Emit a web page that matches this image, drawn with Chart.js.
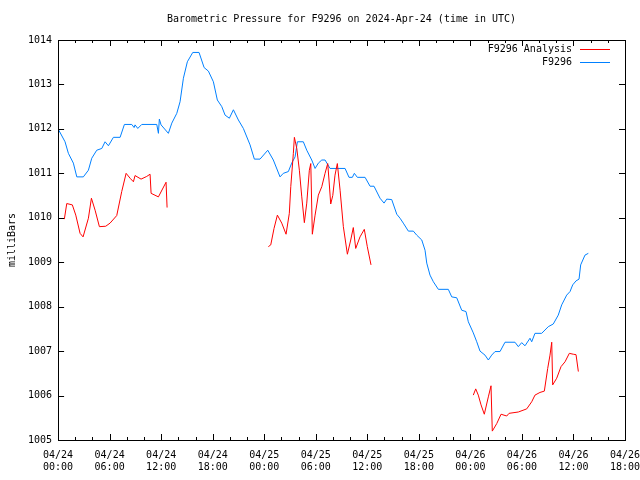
<!DOCTYPE html>
<html>
<head>
<meta charset="utf-8">
<title>Barometric Pressure for F9296</title>
<script src="https://cdn.jsdelivr.net/npm/chart.js@4.4.1/dist/chart.umd.min.js"></script>
<style>
body { margin: 0; background: #fff; }
#wrap { width: 640px; height: 480px; }
</style>
</head>
<body>
<div id="wrap"><canvas id="pressureChart" width="640" height="480"></canvas></div>
<script>
// hours since 2024-04-24 00:00 UTC
const xTickDays = ["04/24", "04/24", "04/24", "04/24", "04/25", "04/25", "04/25", "04/25", "04/26", "04/26", "04/26", "04/26"];
const xTickTimes = ["00:00", "06:00", "12:00", "18:00", "00:00", "06:00", "12:00", "18:00", "00:00", "06:00", "12:00", "18:00"];
const yTicks = [1005, 1006, 1007, 1008, 1009, 1010, 1011, 1012, 1013, 1014];

// analysis series has gaps (null)
const analysisHours = [
    0.73, 1.01, 1.66, 2.06, 2.56, 2.91, 3.53, 3.88, 4.31, 4.81, 5.55, 6.05, 6.83, 7.41, 7.92, 8.38, 8.77, 8.96,
    9.66, 10.32, 10.71, 10.83, 11.68, 12.57, 12.69,
    18,
    24.48, 24.76, 25.14, 25.53, 26.04, 26.54, 26.92, 27.09, 27.39, 27.51, 27.79, 28.09, 28.37, 28.67, 28.95,
    29.25, 29.42, 29.6, 29.92, 30.3, 30.7, 31.08, 31.39, 31.54, 31.74, 31.98, 32.24, 32.51, 32.83, 33.21,
    33.68, 34.07, 34.37, 34.65, 35.15, 35.65, 36.0, 36.43,
    42,
    48.34, 48.62, 48.92, 49.24, 49.62, 50.09, 50.4, 50.55, 51.07, 51.57, 52.23, 52.5, 53.58, 54.56, 55.14,
    55.52, 56.1, 56.61, 57.0, 57.27, 57.47, 57.58, 58.05, 58.55, 59.02, 59.52, 59.98, 60.3, 60.57
];
const analysisValues = [
    1009.97, 1010.32, 1010.29, 1010.06, 1009.65, 1009.57, 1009.99, 1010.44, 1010.17, 1009.80, 1009.81, 1009.88,
    1010.05, 1010.59, 1011.0, 1010.89, 1010.81, 1010.95, 1010.87, 1010.93, 1010.98, 1010.55, 1010.47, 1010.80, 1010.23,
    null,
    1009.35, 1009.39, 1009.76, 1010.06, 1009.88, 1009.63, 1010.10, 1010.70, 1011.45, 1011.81, 1011.56, 1011.07,
    1010.47, 1009.89, 1010.33, 1011.07, 1011.22, 1009.63, 1010.06, 1010.51, 1010.70, 1011.0, 1011.22, 1010.85,
    1010.31, 1010.50, 1010.96, 1011.22, 1010.62, 1009.80, 1009.18, 1009.50, 1009.78, 1009.31, 1009.57, 1009.74,
    1009.35, 1008.94,
    null,
    1006.01, 1006.15, 1006.01, 1005.79, 1005.58, 1005.97, 1006.22, 1005.20, 1005.37, 1005.58, 1005.54, 1005.60,
    1005.63, 1005.70, 1005.86, 1006.01, 1006.07, 1006.10, 1006.61, 1006.91, 1007.20, 1006.24, 1006.39, 1006.65,
    1006.76, 1006.95, 1006.93, 1006.92, 1006.54
];

const stationHours = [
    0, 0.81, 1.2, 1.78, 2.18, 2.94, 3.53, 3.92, 4.5, 5.09, 5.47, 5.86, 6.44, 7.22, 7.72, 8.58, 8.85, 8.96, 9.28,
    9.74, 11.49, 11.68, 11.79, 11.99, 12.84, 13.24, 13.82, 14.2, 14.59, 15.05, 15.68, 16.41, 17.0, 17.5, 18.08,
    18.54, 19.06, 19.44, 19.94, 20.41, 20.99, 21.57, 22.35, 22.85, 23.51, 24.41, 25.06, 25.84, 26.22, 26.81,
    27.2, 27.59, 27.86, 28.55, 28.95, 29.53, 29.92, 30.3, 30.7, 31.08, 31.66, 33.41, 33.87, 34.26, 34.49, 34.84,
    35.74, 36.32, 36.78, 37.48, 37.95, 38.26, 38.84, 39.43, 39.81, 40.19, 40.78, 41.36, 41.75, 42.34, 42.72,
    42.92, 43.3, 43.69, 44.27, 45.43, 45.83, 46.41, 46.99, 47.49, 47.76, 48.34, 48.74, 49.12, 49.7, 50.09,
    50.48, 50.87, 51.45, 52.03, 53.19, 53.58, 53.97, 54.36, 54.94, 55.14, 55.52, 56.3, 57.07, 57.65, 58.23,
    58.63, 59.21, 59.6, 59.91, 60.3, 60.65, 60.84, 61.34, 61.73
];
const stationValues = [
    1012.0, 1011.71, 1011.45, 1011.23, 1010.92, 1010.92, 1011.07, 1011.34, 1011.52, 1011.56, 1011.71, 1011.62,
    1011.81, 1011.81, 1012.10, 1012.10, 1012.03, 1012.09, 1012.01, 1012.10, 1012.10, 1011.90, 1012.22, 1012.09,
    1011.90, 1012.13, 1012.35, 1012.61, 1013.14, 1013.51, 1013.72, 1013.72, 1013.38, 1013.30, 1013.06, 1012.65,
    1012.50, 1012.31, 1012.24, 1012.43, 1012.20, 1012.01, 1011.64, 1011.32, 1011.32, 1011.52, 1011.30, 1010.92,
    1011.0, 1011.04, 1011.23, 1011.37, 1011.71, 1011.71, 1011.52, 1011.30, 1011.11, 1011.23, 1011.30, 1011.30,
    1011.11, 1011.11, 1010.91, 1010.91, 1011.0, 1010.91, 1010.91, 1010.71, 1010.71, 1010.44, 1010.33, 1010.42,
    1010.41, 1010.08, 1009.99, 1009.88, 1009.70, 1009.70, 1009.61, 1009.50, 1009.27, 1008.98, 1008.71, 1008.56,
    1008.39, 1008.39, 1008.22, 1008.20, 1007.92, 1007.89, 1007.66, 1007.41, 1007.21, 1007.0, 1006.91, 1006.80,
    1006.91, 1006.99, 1006.99, 1007.20, 1007.20, 1007.10, 1007.19, 1007.12, 1007.29, 1007.21, 1007.40, 1007.40,
    1007.55, 1007.61, 1007.81, 1008.04, 1008.26, 1008.34, 1008.49, 1008.58, 1008.62, 1008.94, 1009.16, 1009.20
];

const stationName = "F9296";
const monoFont = "'DejaVu Sans Mono', 'Liberation Mono', monospace";

function toPoints(hours, values) {
    return hours.map((h, i) => ({ x: h, y: values[i] }));
}

// gnuplot style frame, inward ticks and legend inside the plot
const gnuplotFrame = {
    id: 'gnuplotFrame',
    afterDatasetsDraw(chart) {
        const ctx = chart.ctx;
        const a = chart.chartArea;
        const xs = chart.scales.x;
        const ys = chart.scales.y;
        ctx.save();
        ctx.strokeStyle = '#000';
        ctx.lineWidth = 1;
        ctx.strokeRect(Math.round(a.left) + 0.5, Math.round(a.top) + 0.5,
            Math.round(a.right - a.left), Math.round(a.bottom - a.top));
        ctx.beginPath();
        for (let h = 0; h <= 66; h += 2) {
            const px = Math.round(xs.getPixelForValue(h)) + 0.5;
            const len = h % 6 === 0 ? 6 : 3;
            ctx.moveTo(px, a.bottom); ctx.lineTo(px, a.bottom - len);
            ctx.moveTo(px, a.top); ctx.lineTo(px, a.top + len);
        }
        yTicks.forEach(v => {
            const py = Math.round(ys.getPixelForValue(v)) + 0.5;
            ctx.moveTo(a.left, py); ctx.lineTo(a.left + 6, py);
            ctx.moveTo(a.right, py); ctx.lineTo(a.right - 6, py);
        });
        ctx.stroke();

        // legend
        ctx.font = "10px " + monoFont;
        ctx.textAlign = 'right';
        ctx.textBaseline = 'middle';
        chart.data.datasets.forEach((ds, i) => {
            const ly = a.top + 9.5 + i * 13;
            ctx.fillStyle = '#000';
            ctx.fillText(ds.label, a.right - 53, ly);
            ctx.strokeStyle = ds.borderColor;
            ctx.beginPath();
            ctx.moveTo(a.right - 45, ly);
            ctx.lineTo(a.right - 15, ly);
            ctx.stroke();
        });
        ctx.restore();
    }
};

const ctx = document.getElementById("pressureChart");
const pressureChart = new Chart(ctx, {
    type: "line",
    data: {
        datasets: [{
            label: stationName + " Analysis",
            data: toPoints(analysisHours, analysisValues),
            borderColor: "#ff0000",
            borderWidth: 1,
            pointRadius: 0,
            spanGaps: false,
            tension: 0
        }, {
            label: stationName,
            data: toPoints(stationHours, stationValues),
            borderColor: "#0080ff",
            borderWidth: 1,
            pointRadius: 0,
            tension: 0
        }]
    },
    options: {
        responsive: false,
        animation: false,
        layout: { autoPadding: false, padding: { left: 4, right: 0, top: 0, bottom: -2 } },
        plugins: {
            legend: { display: false },
            tooltip: { enabled: false },
            title: {
                display: true,
                text: "Barometric Pressure for F9296 on 2024-Apr-24 (time in UTC)",
                color: "#000",
                fullSize: false,
                font: { family: monoFont, size: 10, weight: "normal" },
                padding: { top: 13, bottom: 15 }
            }
        },
        scales: {
            x: {
                type: "linear",
                min: 0,
                max: 66,
                grid: { display: false, drawTicks: false, tickLength: 0 },
                border: { display: false },
                afterFit: scale => {
                    scale.paddingRight = 15;
                    scale.paddingLeft = 0;
                },
                ticks: {
                    stepSize: 6,
                    autoSkip: false,
                    maxRotation: 0,
                    padding: 9,
                    color: "#000",
                    font: { family: monoFont, size: 10 },
                    callback: v => [xTickDays[v / 6], xTickTimes[v / 6]]
                }
            },
            y: {
                min: 1005,
                max: 1014,
                grid: { display: false, drawTicks: false, tickLength: 0 },
                border: { display: false },
                ticks: {
                    stepSize: 1,
                    padding: 6,
                    color: "#000",
                    font: { family: monoFont, size: 10 },
                    callback: v => String(v)
                },
                title: {
                    display: true,
                    text: "milliBars",
                    color: "#000",
                    font: { family: monoFont, size: 10 },
                    padding: { top: 2, bottom: 4 }
                }
            }
        }
    },
    plugins: [gnuplotFrame]
});
</script>
</body>
</html>
